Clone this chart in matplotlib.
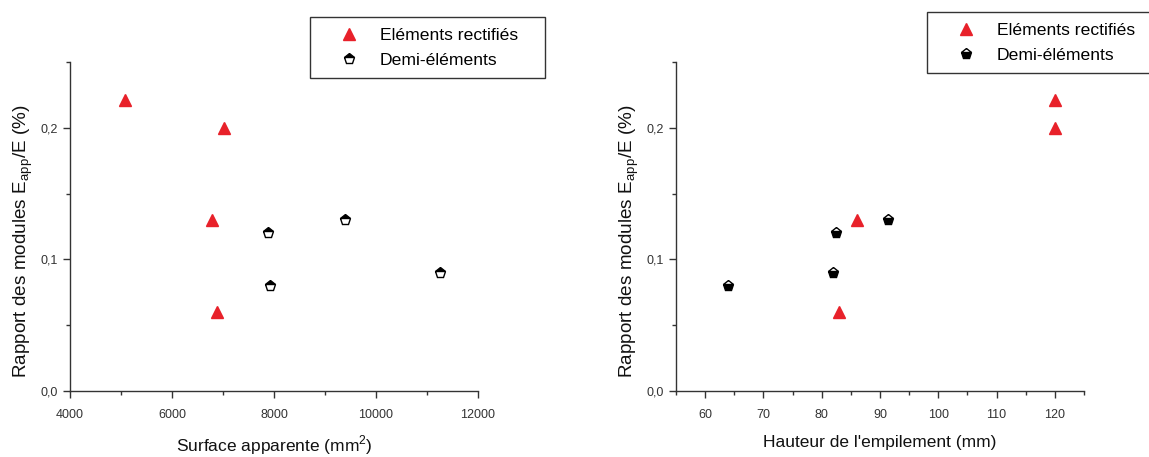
import matplotlib
matplotlib.use("Agg")
import matplotlib.pyplot as plt
from matplotlib.ticker import MultipleLocator, FuncFormatter

# Data
surf_rect = [5070, 7014, 6775, 6873]
ratio_rect_left = [0.221, 0.200, 0.130, 0.060]
surf_demi = [7880, 7928, 9400, 11255]
ratio_demi_left = [0.120, 0.080, 0.130, 0.090]

haut_rect = [120, 120, 86, 83]
ratio_rect_right = [0.221, 0.200, 0.130, 0.060]
haut_demi = [64, 82.4, 81.9, 91.4]
ratio_demi_right = [0.080, 0.120, 0.090, 0.130]

label_rect = "Eléments rectifiés"
label_demi = "Demi-éléments"
ylabel = "Rapport des modules E$_{\\mathregular{app}}$/E (%)"

plt.rcParams['font.family'] = ['Liberation Sans', 'DejaVu Sans']

fig = plt.figure(figsize=(11.49, 4.57), dpi=100)
axL = fig.add_axes([70/1149, 1-391/457, 408/1149, 329/457])
axR = fig.add_axes([676/1149, 1-391/457, 408/1149, 329/457])

comma = FuncFormatter(lambda v, p: f"{v:.1f}".replace('.', ','))

def style(ax):
    for s in ['top', 'right']:
        ax.spines[s].set_visible(False)
    for s in ['left', 'bottom']:
        ax.spines[s].set_color('#333333')
        ax.spines[s].set_linewidth(1.0)
    ax.tick_params(which='major', direction='out', length=5, width=1, color='#333333',
                   labelsize=9, labelcolor='#333333')
    ax.tick_params(axis='x', which='major', pad=8)
    ax.tick_params(which='minor', direction='out', length=3, width=1, color='#333333')
    ax.set_ylim(0, 0.25)
    ax.yaxis.set_major_locator(MultipleLocator(0.1))
    ax.yaxis.set_minor_locator(MultipleLocator(0.05))
    ax.yaxis.set_major_formatter(comma)
    ax.set_ylabel(ylabel, fontsize=13.6, color='#111111')
    ax.yaxis.set_label_coords(-0.087, 0.456)

# Left
axL.plot(surf_rect, ratio_rect_left, linestyle='none', marker='^', markersize=9,
         color='#e8212a', markeredgecolor='#e8212a', label=label_rect)
axL.plot(surf_demi, ratio_demi_left, linestyle='none', marker='p', markersize=8,
         fillstyle='top', markerfacecolor='black', markerfacecoloralt='white',
         markeredgecolor='black', markeredgewidth=1.0, label=label_demi)
axL.set_xlim(4000, 12000)
axL.xaxis.set_major_locator(MultipleLocator(2000))
axL.xaxis.set_minor_locator(MultipleLocator(1000))
style(axL)
axL.set_xlabel("Surface apparente (mm$^{\\mathregular{2}}$)", fontsize=12.5, color='#111111', labelpad=9)

# Right
axR.plot(haut_rect, ratio_rect_right, linestyle='none', marker='^', markersize=9,
         color='#e8212a', markeredgecolor='#e8212a', label=label_rect)
axR.plot(haut_demi, ratio_demi_right, linestyle='none', marker='p', markersize=8,
         fillstyle='bottom', markerfacecolor='black', markerfacecoloralt='white',
         markeredgecolor='black', markeredgewidth=1.0, label=label_demi)
axR.set_xlim(55, 125)
axR.xaxis.set_major_locator(MultipleLocator(10))
axR.xaxis.set_minor_locator(MultipleLocator(5))
style(axR)
axR.set_xlabel("Hauteur de l'empilement (mm)", fontsize=12.5, color='#111111', labelpad=10)

for ax, (x0, ytop) in [(axL, (310/1149, 1-17/457)), (axR, (927/1149, 1-12/457))]:
    w = 235/1149
    leg = ax.legend(loc='upper left', bbox_to_anchor=(x0, ytop - 0.2, w, 0.2),
                    bbox_transform=fig.transFigure, mode='expand',
                    fontsize=12.6, numpoints=1, handlelength=3.2, handletextpad=0.2,
                    borderpad=0.6, labelspacing=0.55, fancybox=False, framealpha=1,
                    borderaxespad=0)
    leg.get_frame().set_edgecolor('#333333')
    leg.get_frame().set_linewidth(1.0)

fig.savefig("out.png", dpi=100)
